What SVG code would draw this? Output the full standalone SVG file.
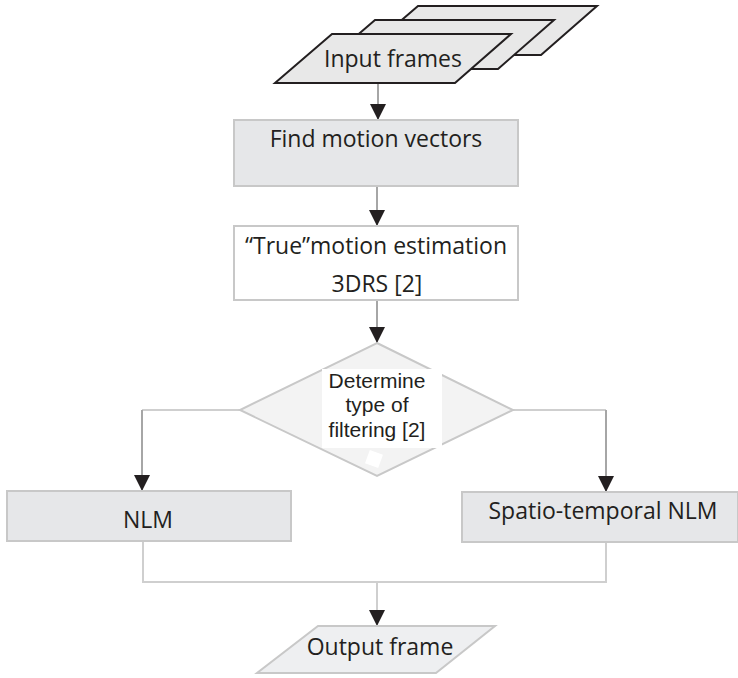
<svg xmlns="http://www.w3.org/2000/svg" width="738" height="678" viewBox="0 0 738 678">
<defs>
<style>
.t{font-family:"Open Sans","Liberation Sans",sans-serif;font-size:23px;fill:#231f20;text-anchor:middle}
.a{font-family:"Liberation Sans",Arial,sans-serif;font-size:21px;fill:#231f20;text-anchor:middle}
.frame{fill:#e8e8e8;stroke:#231f20;stroke-width:2}
.box{fill:#e6e7e9;stroke:#c8c8c8;stroke-width:2}
.wbox{fill:#ffffff;stroke:#c8c8c8;stroke-width:2}
.v{stroke:#a6a6a6;stroke-width:2;fill:none}
.h{stroke:#cfcfcf;stroke-width:2;fill:none}
</style>
<marker id="ah" markerWidth="16" markerHeight="16" viewBox="0 0 16 16" refX="16" refY="8" orient="auto" markerUnits="userSpaceOnUse">
<path d="M0,0 L16,8 L0,16 Z" fill="#231f20"/>
</marker>
</defs>
<rect width="738" height="678" fill="#ffffff"/>
<g id="connectors">
<line class="v" x1="378" y1="83" x2="378" y2="120" marker-end="url(#ah)"/>
<line class="v" x1="377" y1="186" x2="377" y2="226" marker-end="url(#ah)"/>
<line class="v" x1="377" y1="300" x2="377" y2="343" marker-end="url(#ah)"/>
<polyline class="h" points="240,410 142,410"/>
<line class="v" x1="142" y1="410" x2="142" y2="491" marker-end="url(#ah)"/>
<polyline class="h" points="513,410 606,410"/>
<line class="v" x1="606" y1="410" x2="606" y2="492" marker-end="url(#ah)"/>
<polyline class="h" points="143,541 143,582 606,582 606,542"/>
<line class="h" x1="377" y1="582" x2="377" y2="626" marker-end="url(#ah)"/>
</g>
<g id="input-frames">
<polygon class="frame" points="418,6 597,6 541,55 361,55"/>
<polygon class="frame" points="375,20 554,20 498,69 318,69"/>
<polygon class="frame" points="332,34 511,34 455,83 275,83"/>
<text class="t" x="393" y="67">Input frames</text>
</g>
<g id="find-motion-vectors">
<rect class="box" x="234" y="120" width="284" height="66"/>
<text class="t" x="376" y="147">Find motion vectors</text>
</g>
<g id="true-motion-estimation">
<rect class="wbox" x="234" y="226" width="284" height="74"/>
<text class="t" x="376" y="254">“True”motion estimation</text>
<text class="t" x="377" y="292">3DRS [2]</text>
</g>
<g id="determine-filtering">
<polygon points="377,343 513,410 377,476 240,410" fill="#f3f3f3" stroke="#c8c8c8" stroke-width="2"/>
<rect x="322" y="369" width="120" height="79" fill="#ffffff"/>
<rect x="367" y="452" width="14" height="14" fill="#ffffff" transform="rotate(20 374 459)"/>
<text class="a" x="377" y="388">Determine</text>
<text class="a" x="377" y="412">type of</text>
<text class="a" x="377" y="437">filtering [2]</text>
</g>
<g id="nlm">
<rect class="box" x="7" y="491" width="284" height="50"/>
<text class="t" x="148" y="528">NLM</text>
</g>
<g id="spatio-temporal-nlm">
<rect class="box" x="462" y="492" width="276" height="50"/>
<text class="t" x="603" y="519">Spatio-temporal NLM</text>
</g>
<g id="output-frame">
<polygon points="318,626 495,626 436,673 257,673" fill="#eeeff1" stroke="#c8c8c8" stroke-width="2"/>
<text class="t" x="380" y="655">Output frame</text>
</g>
</svg>
